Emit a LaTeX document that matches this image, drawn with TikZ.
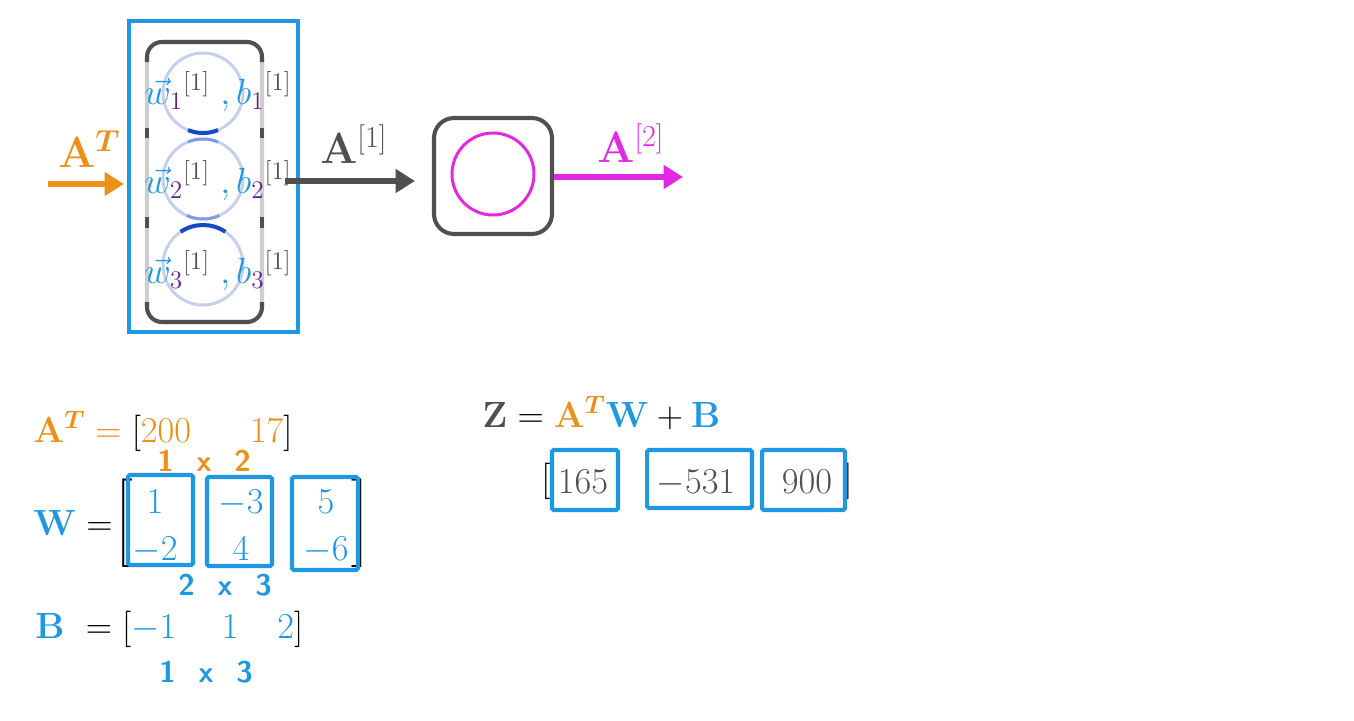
\documentclass[tikz,border=0pt]{standalone}
\usepackage{amsmath}
\usepackage{amssymb}
\usepackage{bm}
\usepackage{tikz}
\usetikzlibrary{arrows.meta}

\definecolor{netblue}{RGB}{30,152,226}
\definecolor{netorange}{RGB}{236,144,24}
\definecolor{netgray}{RGB}{80,80,80}
\definecolor{netmagenta}{RGB}{226,40,226}
\definecolor{netpurple}{RGB}{96,36,140}
\definecolor{netpale}{RGB}{196,208,236}
\definecolor{netdark}{RGB}{22,74,196}
\definecolor{netside}{RGB}{206,206,206}

\begin{document}
\begin{tikzpicture}[
            x=0.02cm, y=-0.02cm,
            txt/.style={inner sep=0pt, font=\fontsize{21}{25}\selectfont},
            big/.style={inner sep=0pt, font=\fontsize{27}{32}\selectfont},
            hand/.style={inner sep=0pt, font=\fontsize{17}{20}\selectfont\sffamily\bfseries},
            colbox/.style={draw=netblue, line width=2.3pt, inner sep=0pt, rounded corners=1pt},
            fat/.style={line width=3.6pt, -{Triangle[length=11pt,width=13pt]}}
        ]
            \useasboundingbox (0,0) rectangle (1354,720);

            % hidden layer
            \node[draw=netblue, line width=1.8pt, minimum width=3.38cm, minimum height=6.22cm, inner sep=0pt] (layer) at (213.5,176.5) {};
            \draw[netside, line width=2.3pt, rounded corners=0.3cm] (147,42) rectangle (262,322);
            \draw[netgray, line width=2.3pt, rounded corners=0.3cm] (147,62) -- (147,42) -- (262,42) -- (262,62);
            \draw[netgray, line width=2.3pt, rounded corners=0.3cm] (147,302) -- (147,322) -- (262,322) -- (262,302);
            \draw[netgray, line width=2.3pt] (147,128) -- (147,138) (262,128) -- (262,138)
                (147,217) -- (147,228) (262,217) -- (262,228);

            \foreach \i/\y in {1/93,2/179,3/265}
                \node[circle, draw=netpale, line width=1.7pt, minimum size=1.6cm, inner sep=0pt] (n\i) at (203,\y) {};
            \draw[netdark, line width=2.3pt] ([shift={(68:40)}]n1.center) arc[start angle=68, end angle=112, radius=40];
            \draw[netdark!55, line width=1.7pt] ([shift={(248:40)}]n2.center) arc[start angle=248, end angle=292, radius=40];
            \draw[netdark!55, line width=1.7pt] ([shift={(66:40)}]n2.center) arc[start angle=66, end angle=114, radius=40];
            \draw[netdark, line width=2.3pt] ([shift={(236:40)}]n3.center) arc[start angle=236, end angle=304, radius=40];

            \foreach \i/\y in {1/104,2/193,3/283}
                \node[txt, anchor=base west, font=\fontsize{20}{24}\selectfont] (wb\i) at (144,\y)
                    {$\color{netblue}\vec{w}_{\color{netpurple}\i}^{\color{netgray}[1]}\;,b_{\color{netpurple}\i}^{\color{netgray}[1]}$};

            % input
            \coordinate (in) at (48,184);
            \draw[fat, netorange, shorten >=2pt] (in) -- (layer.west |- in);
            \node[big, anchor=base west, text=netorange] (inlbl) at (58,167) {$\mathbf{A}^{\bm{T}}$};

            % output unit
            \node[draw=netgray, line width=2.3pt, rounded corners=0.4cm, minimum width=2.36cm, minimum height=2.32cm, inner sep=0pt] (unit) at (493,176) {};
            \node[circle, draw=netmagenta, line width=1.7pt, minimum size=1.64cm, inner sep=0pt] (act) at (493,174) {};

            \coordinate (mid) at (285,181);
            \draw[fat, netgray, shorten >=0.34cm] (mid) -- (unit.west |- mid);
            \node[big, anchor=base west, text=netgray] (midlbl) at (320,163) {$\mathbf{A}^{[1]}$};

            \coordinate (out) at (683,177);
            \draw[fat, netmagenta] (unit.east |- out) -- (out);
            \node[big, anchor=base west, text=netmagenta] (outlbl) at (597,162) {$\mathbf{A}^{[2]}$};

            % A^T
            \node[txt, anchor=base west, text=netorange] (atrow) at (33,442)
                {$\mathbf{A}^{\bm{T}} = {\color{black}[}200\hspace{1.6em}17{\color{black}]}$};
            \node[hand, text=netorange] (atdim) at (204,461) {1\hspace{13pt}x\hspace{13pt}2};

            % W
            \node[txt, anchor=base west] (wlhs) at (33,535) {${\color{netblue}\mathbf{W}} =$};
            \node[txt] (wopen) at (124,523) {$\left[\vrule height 0.62cm depth 0.62cm width 0pt\right.$};
            \node[txt] (wclose) at (360,523) {$\left.\vrule height 0.62cm depth 0.62cm width 0pt\right]$};
            \node[colbox, minimum width=1.3cm, minimum height=1.8cm] (wc1) at (160.5,520) {};
            \node[colbox, minimum width=1.3cm, minimum height=1.78cm] (wc2) at (239.5,521.5) {};
            \node[colbox, minimum width=1.32cm, minimum height=1.86cm] (wc3) at (325,523.5) {};
            \foreach \x/\a/\b in {155/1/-2, 241/-3/4, 326/5/-6} {
                \node[txt, anchor=base, text=netblue] (wt\x) at (\x,513) {$\a$};
                \node[txt, anchor=base, text=netblue] (wb\x) at (\x,560) {$\b$};
            }
            \node[hand, text=netblue] (wdim) at (225,585) {2\hspace{13pt}x\hspace{13pt}3};

            % B
            \node[txt, anchor=base west] (brow) at (35,638)
                {${\color{netblue}\mathbf{B}}\ = [{\color{netblue}-1\hspace{26pt}1\hspace{22pt}2}]$};
            \node[hand, text=netblue] (bdim) at (206,672) {1\hspace{13pt}x\hspace{13pt}3};

            % Z
            \node[txt, anchor=base west, font=\fontsize{20.5}{24}\selectfont] (zrow) at (482,427)
                {${\color{netgray}\mathbf{Z}} = {\color{netorange}\mathbf{A}^{\bm{T}}}{\color{netblue}\mathbf{W}} + {\color{netblue}\mathbf{B}}$};
            \node[txt] (zopen) at (546,481) {$[$};
            \node[txt] (zclose) at (848,481) {$]$};
            \node[colbox, minimum width=1.32cm, minimum height=1.2cm] (zc1) at (585,480) {};
            \node[colbox, minimum width=2.1cm, minimum height=1.16cm] (zc2) at (699.5,479) {};
            \node[colbox, minimum width=1.66cm, minimum height=1.2cm] (zc3) at (803.5,480) {};
            \node[txt, anchor=base, text=netgray] (z1) at (583,493) {$165$};
            \node[txt, anchor=base, text=netgray] (z2) at (696,493) {$-531$};
            \node[txt, anchor=base, text=netgray] (z3) at (807,493) {$900$};
        \end{tikzpicture}
\end{document}
